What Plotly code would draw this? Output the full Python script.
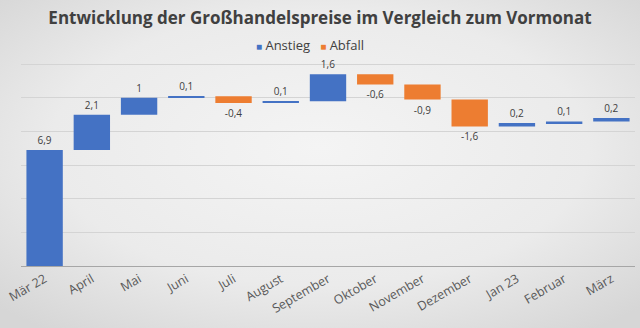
import base64
import numpy as np
import plotly.graph_objects as go

categories = ["Mär 22", "April", "Mai", "Juni", "Juli", "August", "September",
              "Oktober", "November", "Dezember", "Jan 23", "Februar", "März"]
changes = [6.9, 2.1, 1.0, 0.1, -0.4, 0.1, 1.6, -0.6, -0.9, -1.6, 0.2, 0.1, 0.2]
y_ticks = [0, 2, 4, 6, 8, 10, 12]
series_names = ["Anstieg", "Abfall"]
series_colors = ["#4472C4", "#ED7D31"]

vals = np.array(changes)
cum = np.cumsum(vals)
prev = cum - vals

def fmt(v):
    s = ("%.1f" % v).rstrip("0").rstrip(".")
    return s.replace(".", ",")

inc_y = [v if v >= 0 else None for v in vals]
inc_base = [p if v >= 0 else None for v, p in zip(vals, prev)]
inc_text = [fmt(v) if v >= 0 else "" for v in vals]
dec_y = [v if v < 0 else None for v in vals]
dec_base = [p if v < 0 else None for v, p in zip(vals, prev)]
dec_text = [fmt(v) if v < 0 else "" for v in vals]

W, H = 640, 328
ml, mr, mt, mb = 21, 5, 60, 62
pw, ph = W - ml - mr, H - mt - mb

svg = f'''<svg xmlns="http://www.w3.org/2000/svg" width="{W}" height="{H}" viewBox="0 0 {W} {H}" preserveAspectRatio="none">
<defs><radialGradient id="g" cx="50%" cy="45%" r="70%">
<stop offset="0%" stop-color="#f4f4f4"/><stop offset="60%" stop-color="#ebebeb"/><stop offset="100%" stop-color="#d6d6d6"/>
</radialGradient></defs><rect width="{W}" height="{H}" fill="url(#g)"/></svg>'''
src = "data:image/svg+xml;base64," + base64.b64encode(svg.encode()).decode()

fig = go.Figure()
fig.add_trace(go.Bar(x=categories, y=inc_y, base=inc_base, name=series_names[0],
                     marker=dict(color=series_colors[0], line=dict(width=0)),
                     text=inc_text, textposition="outside", cliponaxis=False,
                     textfont=dict(size=10, color="#404040"), showlegend=False))
fig.add_trace(go.Bar(x=categories, y=dec_y, base=dec_base, name=series_names[1],
                     marker=dict(color=series_colors[1], line=dict(width=0)),
                     text=dec_text, textposition="outside", cliponaxis=False,
                     textfont=dict(size=10, color="#404040"), showlegend=False))

legend_text = "   ".join(
    f"<span style='color:{c};font-size:10px'>■</span> {n}"
    for n, c in zip(series_names, series_colors))

fig.update_layout(
    width=W, height=H,
    margin=dict(l=ml, r=mr, t=mt, b=mb, pad=0),
    barmode="overlay", bargap=0.23,
    paper_bgcolor="#ebebeb", plot_bgcolor="rgba(0,0,0,0)",
    font=dict(family="Open Sans, sans-serif", color="#595959"),
    title=dict(text="<b>Entwicklung der Großhandelspreise im Vergleich zum Vormonat</b>",
               x=0.5, xanchor="center", y=0.945, yanchor="middle",
               font=dict(size=17, color="#404040")),
    annotations=[dict(text=legend_text, xref="paper", yref="paper",
                      x=(310 - ml) / pw, y=(H - mb - 45) / ph, xanchor="center", yanchor="middle",
                      showarrow=False, font=dict(size=13, color="#404040"))],
    images=[dict(source=src, xref="paper", yref="paper", x=-ml/pw, y=1 + mt/ph,
                 sizex=W/pw, sizey=H/ph, sizing="stretch", xanchor="left",
                 yanchor="top", layer="below")],
    xaxis=dict(tickangle=-30, tickfont=dict(size=12.5, color="#595959"),
               showline=True, linecolor="#a6a6a6", linewidth=1, ticks="",
               showgrid=False),
    yaxis=dict(range=[0, 12.25], tickvals=y_ticks, showticklabels=False,
               showgrid=True, gridcolor="#d4d4d4", gridwidth=1,
               zeroline=False, showline=False),
)

fig.write_html("out.html")
